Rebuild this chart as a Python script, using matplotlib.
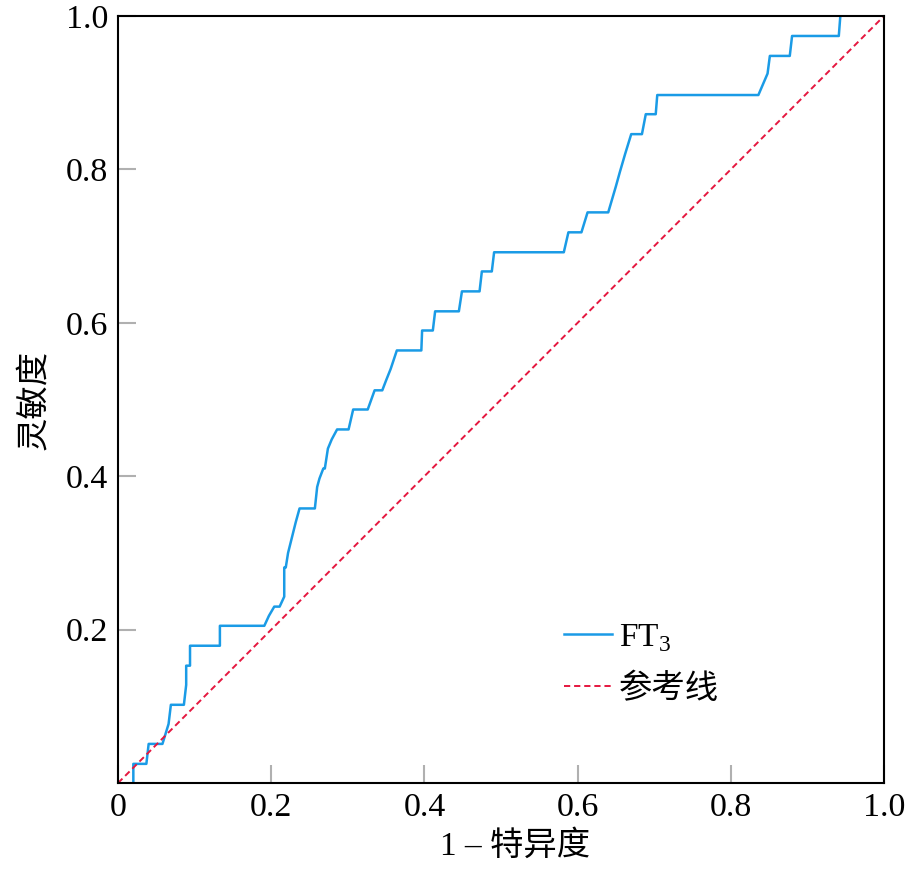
import numpy as np
import matplotlib
matplotlib.use('Agg')
import matplotlib.pyplot as plt

plt.rcParams['font.family'] = ['Liberation Serif', 'Noto Sans CJK SC']
plt.rcParams['mathtext.fontset'] = 'custom'
plt.rcParams['mathtext.rm'] = 'Liberation Serif'

# ROC curve vertices (1 - specificity, sensitivity)
fpr = [0.020, 0.020, 0.037, 0.040, 0.058, 0.062, 0.066, 0.069, 0.086, 0.089, 0.089, 0.094, 0.094,
       0.133, 0.133, 0.191, 0.197, 0.204, 0.211, 0.217, 0.217, 0.219, 0.222, 0.227, 0.232, 0.237,
       0.257, 0.260, 0.263, 0.268, 0.270, 0.274, 0.279, 0.286, 0.301, 0.307, 0.326, 0.335, 0.345,
       0.350, 0.356, 0.364, 0.396, 0.397, 0.411, 0.414, 0.445, 0.449, 0.472, 0.475, 0.488, 0.491,
       0.582, 0.588, 0.605, 0.613, 0.640, 0.645, 0.650, 0.655, 0.662, 0.670, 0.684, 0.689, 0.702,
       0.704, 0.836, 0.848, 0.851, 0.877, 0.880, 0.941, 0.943]
tpr = [0.000, 0.025, 0.025, 0.051, 0.051, 0.064, 0.077, 0.102, 0.102, 0.128, 0.153, 0.153, 0.179,
       0.179, 0.205, 0.205, 0.218, 0.230, 0.230, 0.243, 0.281, 0.281, 0.300, 0.320, 0.340, 0.358,
       0.358, 0.386, 0.397, 0.410, 0.410, 0.436, 0.448, 0.461, 0.461, 0.487, 0.487, 0.512, 0.512,
       0.525, 0.540, 0.564, 0.564, 0.590, 0.590, 0.615, 0.615, 0.641, 0.641, 0.667, 0.667, 0.692,
       0.692, 0.718, 0.718, 0.744, 0.744, 0.761, 0.778, 0.796, 0.820, 0.846, 0.846, 0.872, 0.872,
       0.897, 0.897, 0.925, 0.948, 0.948, 0.974, 0.974, 1.000]

ref = [0.0, 1.0]

xticks = [0, 0.2, 0.4, 0.6, 0.8, 1.0]
xticklabels = ['0', '0.2', '0.4', '0.6', '0.8', '1.0']
yticks = [0.2, 0.4, 0.6, 0.8, 1.0]
yticklabels = ['0.2', '0.4', '0.6', '0.8', '1.0']

fig = plt.figure(figsize=(9.17, 8.71), dpi=100)
ax = fig.add_axes([0.1287, 0.101, 0.8353, 0.8806])

ax.plot(fpr, tpr, color='#1a9be6', lw=1.8, label=r'FT$_3$')
ax.plot(ref, ref, color='#e5173f', lw=1.4, ls=(0, (3.2, 2.0)), label='参考线')

ax.set_xlim(0, 1)
ax.set_ylim(0, 1)
ax.set_xticks(xticks)
ax.set_xticklabels(xticklabels)
ax.set_yticks(yticks)
ax.set_yticklabels(yticklabels)
ax.tick_params(direction='in', length=13, width=1.5, color='#b0b0b0', labelsize=24.5, pad=7)

for s in ax.spines.values():
    s.set_linewidth(1.5)
    s.set_color('black')

ax.set_xlabel('1 – 特异度', fontsize=24)
ax.xaxis.set_label_coords(0.518, -0.062)
ax.set_ylabel('灵敏度', fontsize=24)
ax.yaxis.set_label_coords(-0.089, 0.5)

leg = ax.legend(loc='lower left', bbox_to_anchor=(0.56, 0.08), frameon=False, fontsize=24,
                handlelength=1.45, handletextpad=0.2, labelspacing=0.6, borderpad=0)

fig.savefig('out.png', dpi=100)
